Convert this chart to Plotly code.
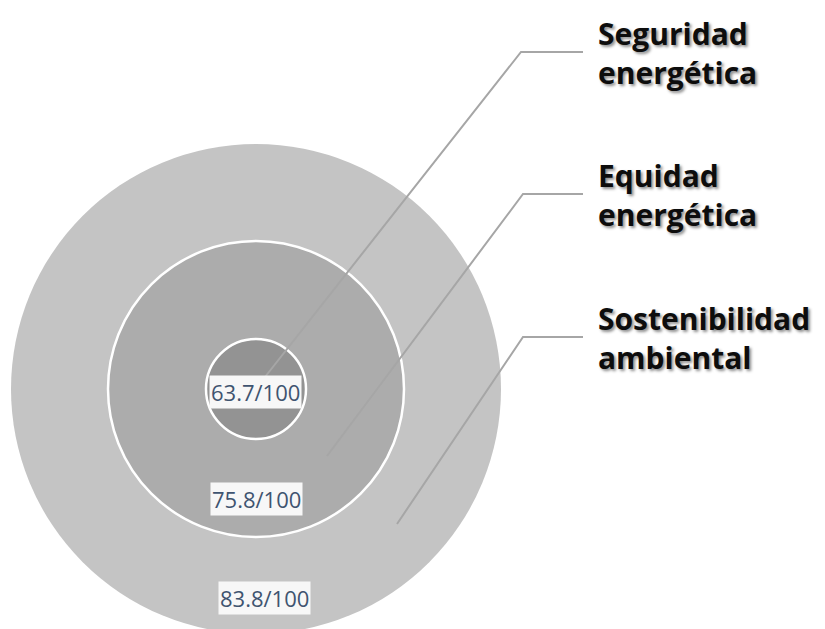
import plotly.graph_objects as go

# data
categories = ["Seguridad<br>energética", "Equidad<br>energética", "Sostenibilidad<br>ambiental"]
scores = [63.7, 75.8, 83.8]
score_max = 100

# layout in page pixels (the page body has an 8px margin, y grows downward)
W, H = 825, 629
off = 8
cx, cy = 256, 389
radii = [50, 148, 245]
fills = ["#939393", "#acacac", "#c4c4c4"]
label_pos = [(255, 392), (256, 499), (264, 598)]
leader_end = [(265, 377), (327, 456), (397, 524)]
leader_corner = [(521, 52), (523, 194), (523, 337)]
leader_right = 583
text_x = 596

fig = go.Figure()

# invisible trace so the axes exist
fig.add_trace(go.Scatter(x=[off, W + off], y=[off, H + off], mode="markers",
                         marker=dict(opacity=0), hoverinfo="skip", showlegend=False))

# circles, outermost first
for i in reversed(range(len(scores))):
    r = radii[i]
    fig.add_shape(type="circle", x0=cx - r, x1=cx + r, y0=cy - r, y1=cy + r,
                  fillcolor=fills[i],
                  line=dict(color="white", width=0 if i == 2 else 2.5),
                  layer="below")

# leader lines
for (ex, ey), (kx, ky) in zip(leader_end, leader_corner):
    fig.add_shape(type="path", path=f"M {ex} {ey} L {kx} {ky} L {leader_right} {ky}",
                  line=dict(color="#a6a6a6", width=2))

# category labels on the right
for name, (kx, ky) in zip(categories, leader_corner):
    fig.add_annotation(x=text_x, y=ky + 1, text=f"<b>{name}</b>", showarrow=False,
                       xanchor="left", yanchor="middle", align="left",
                       font=dict(family="Open Sans", size=30, color="#0d0d0d",
                                 shadow="2px 2px 3px rgba(0,0,0,0.45)"))

# score labels
for v, (lx, ly) in zip(scores, label_pos):
    fig.add_annotation(x=lx, y=ly, text=f"{v}/{score_max}", showarrow=False,
                       xanchor="center", yanchor="middle",
                       bgcolor="#f7f7f7", borderpad=1,
                       font=dict(family="Open Sans", size=22, color="#3f5470"))

fig.update_xaxes(range=[off, W + off], visible=False)
fig.update_yaxes(range=[H + off, off], visible=False)
fig.update_layout(width=W, height=H, margin=dict(l=0, r=0, t=0, b=0),
                  plot_bgcolor="white", paper_bgcolor="white", showlegend=False)

fig.write_html("out.html")
